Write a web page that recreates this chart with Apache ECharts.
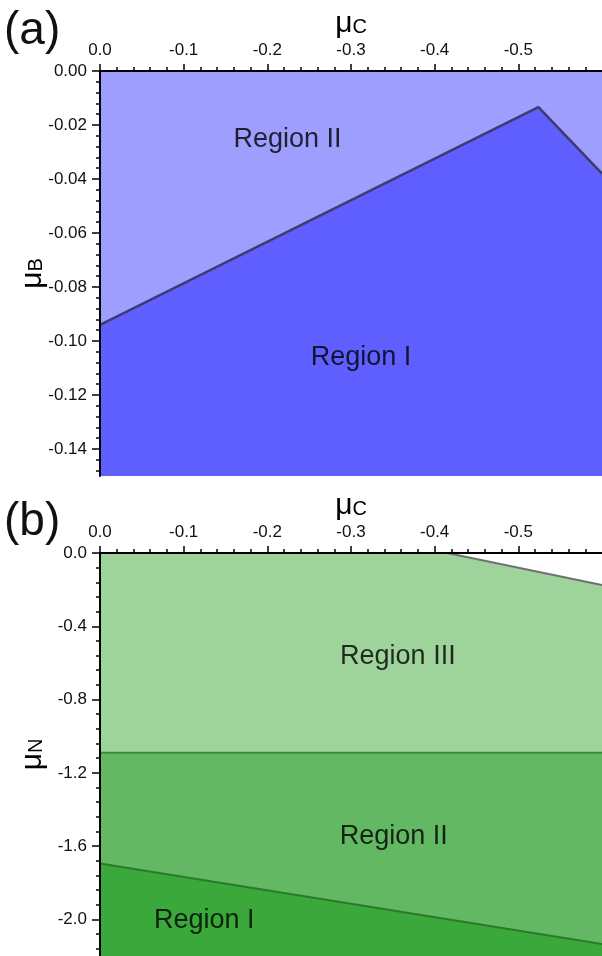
<!DOCTYPE html>
<html><head><meta charset="utf-8">
<script src="https://cdn.jsdelivr.net/npm/echarts@6/dist/echarts.min.js"></script>
<style>html,body{margin:0;padding:0;background:#fff}#c{width:602px;height:956px}</style>
</head><body><div id="c"></div>
<script>
// ---------- data ----------
// panel (a): boundary between Region I and Region II (muC, muB)
const aBoundaryC = [0, -0.524, -0.6];
const aBoundaryB = [-0.094, -0.0134, -0.038];
// panel (b): boundaries (muC, muN)
const bTopC = [0, -0.415, -0.6];
const bTopN = [0, 0, -0.175];
const bMidC = [0, -0.6];
const bMidN = [-1.09, -1.09];
const bLowC = [0, -0.6];
const bLowN = [-1.695, -2.135];
// region labels
const aLabels = [['Region II', -0.224, -0.0255], ['Region I', -0.312, -0.106]];
const bLabels = [['Region III', -0.356, -0.565], ['Region II', -0.351, -1.55], ['Region I', -0.1245, -2.004]];
// tick labels
const xTickVals = [0, -0.1, -0.2, -0.3, -0.4, -0.5];
const aYTickVals = [0, -0.02, -0.04, -0.06, -0.08, -0.10, -0.12, -0.14];
const bYTickVals = [0, -0.4, -0.8, -1.2, -1.6, -2.0];

function minorList(step, n, majors) {
  const out = [];
  for (let i = 0; i <= n; i++) {
    const v = -Math.round(i * step * 10000) / 10000;
    if (!majors.some(m => Math.abs(m - v) < 1e-9)) out.push(v);
  }
  return out;
}
const xMinor = minorList(0.02, 29, xTickVals);
const aYMinor = minorList(0.004, 37, aYTickVals);
const bYMinor = minorList(0.08, 27, bYTickVals);

const zip = (xs, ys) => xs.map((x, i) => [x, ys[i]]);
const FONT = 'Liberation Sans, Arial, sans-serif';

const grids = [
  {left: 100, top: 71, width: 513, height: 405},
  {left: 100, top: 553, width: 513, height: 404}
];
const nameRich = {m: {fontSize: 30, fontFamily: FONT, color: '#000'}, s: {fontSize: 20, fontFamily: FONT, color: '#000', padding: [7, 0, 0, 0]}};

function xAxes(gi) {
  return [
    {
      gridIndex: gi, type: 'value', position: 'top', inverse: true, min: -0.6, max: 0, z: 5,
      name: '{m|μ}{s|C}', nameLocation: 'middle', nameGap: 32,
      nameTextStyle: {fontFamily: FONT, color: '#000', rich: nameRich},
      axisLine: {show: true, lineStyle: {color: '#000', width: 2}},
      axisTick: {show: true, length: 7, lineStyle: {color: '#000', width: 1.5}, customValues: xTickVals},
      axisLabel: {show: true, customValues: xTickVals, margin: 12, fontSize: 17, fontFamily: FONT, color: '#111', formatter: v => v.toFixed(1)},
      splitLine: {show: false}
    },
    {
      gridIndex: gi, type: 'value', position: 'top', inverse: true, min: -0.6, max: 0, z: 5,
      axisLine: {show: false},
      axisTick: {show: true, length: 4, lineStyle: {color: '#000', width: 1.5}, customValues: xMinor},
      axisLabel: {show: false}, splitLine: {show: false}
    }
  ];
}
function yAxes(gi, min, majors, minors, digits, sub) {
  return [
    {
      gridIndex: gi, type: 'value', position: 'left', min: min, max: 0, z: 5,
      name: '{m|μ}{s|' + sub + '}', nameLocation: 'middle', nameGap: 52, nameRotate: 90, nameMoveOverlap: false,
      nameTextStyle: {fontFamily: FONT, color: '#000', rich: nameRich},
      axisLine: {show: true, lineStyle: {color: '#000', width: 2}},
      axisTick: {show: true, length: 8, lineStyle: {color: '#000', width: 1.5}, customValues: majors},
      axisLabel: {show: true, customValues: majors, margin: 13, fontSize: 17, fontFamily: FONT, color: '#111', formatter: v => v.toFixed(digits)},
      splitLine: {show: false}
    },
    {
      gridIndex: gi, type: 'value', position: 'left', min: min, max: 0, z: 5,
      axisLine: {show: false},
      axisTick: {show: true, length: 4, lineStyle: {color: '#000', width: 1.5}, customValues: minors},
      axisLabel: {show: false}, splitLine: {show: false}
    }
  ];
}

function labelSeries(xi, yi, labels) {
  return {
    type: 'scatter', xAxisIndex: xi, yAxisIndex: yi, symbolSize: 0, z: 10, silent: true,
    data: labels.map(l => ({name: l[0], value: [l[1], l[2]]})),
    label: {show: true, position: 'inside', formatter: p => p.name, fontSize: 27, fontFamily: FONT, color: '#000'}
  };
}

const option = {
  animation: false,
  backgroundColor: '#fff',
  grid: grids,
  xAxis: [...xAxes(0), ...xAxes(1)],
  yAxis: [...yAxes(0, -0.15, aYTickVals, aYMinor, 2, 'B'), ...yAxes(1, -2.2, bYTickVals, bYMinor, 1, 'N')],
  graphic: [
    {type: 'text', left: 4, top: 8, style: {text: '(a)', fontSize: 46, fontFamily: FONT, fill: '#111'}},
    {type: 'text', left: 4, top: 499, style: {text: '(b)', fontSize: 46, fontFamily: FONT, fill: '#111'}}
  ],
  series: [
    // panel (a)
    {type: 'line', xAxisIndex: 0, yAxisIndex: 0, data: zip(aBoundaryC, aBoundaryB), symbol: 'none',
     lineStyle: {width: 0}, areaStyle: {origin: 'end', color: '#9e9eff', opacity: 1}, z: 1},
    {type: 'line', xAxisIndex: 0, yAxisIndex: 0, data: zip(aBoundaryC, aBoundaryB), symbol: 'none',
     lineStyle: {width: 2.5, color: '#3c3c6e'}, areaStyle: {origin: 'start', color: '#5f5fff', opacity: 1}, z: 2},
    labelSeries(0, 0, aLabels),
    // panel (b)
    {type: 'line', xAxisIndex: 2, yAxisIndex: 2, data: zip(bTopC, bTopN), symbol: 'none',
     lineStyle: {width: 2, color: '#707070'}, areaStyle: {origin: 'start', color: '#9ed39b', opacity: 1}, z: 1},
    {type: 'line', xAxisIndex: 2, yAxisIndex: 2, data: zip(bMidC, bMidN), symbol: 'none',
     lineStyle: {width: 2, color: '#3f8a3f'}, areaStyle: {origin: 'start', color: '#63b863', opacity: 1}, z: 2},
    {type: 'line', xAxisIndex: 2, yAxisIndex: 2, data: zip(bLowC, bLowN), symbol: 'none',
     lineStyle: {width: 2, color: '#2a7a2a'}, areaStyle: {origin: 'start', color: '#3aa83a', opacity: 1}, z: 3},
    labelSeries(2, 2, bLabels)
  ]
};
const chart = echarts.init(document.getElementById('c'), null, {renderer: 'canvas'});
chart.setOption(option);
</script></body></html>
